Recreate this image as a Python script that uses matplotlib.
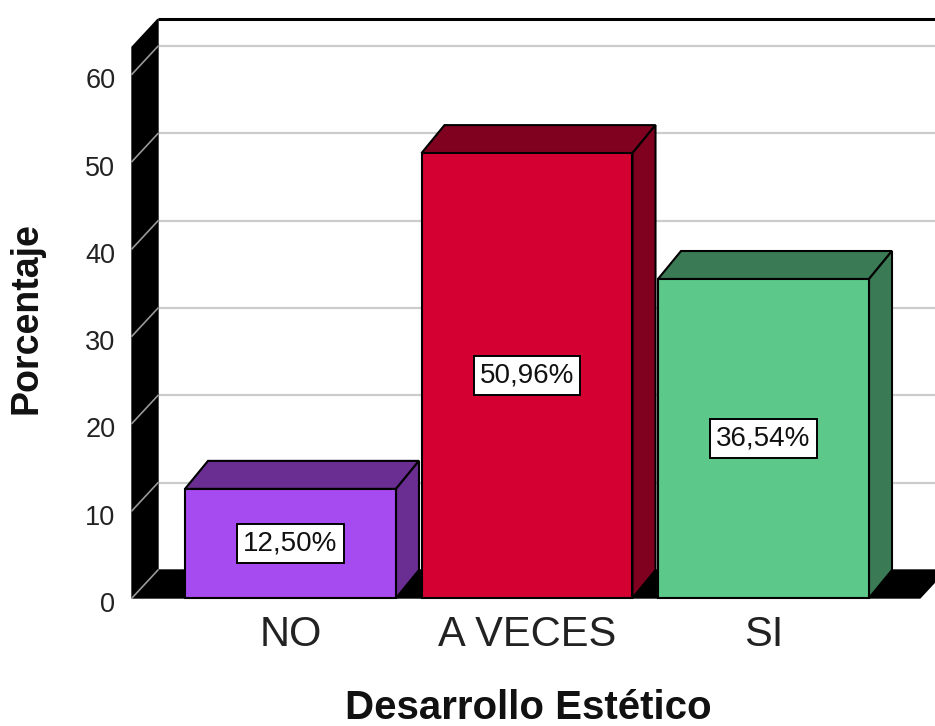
import matplotlib
matplotlib.use("Agg")
import matplotlib.pyplot as plt
import matplotlib.transforms as mtransforms
from matplotlib.patches import Polygon, Rectangle

# data
categories = ["NO", "A VECES", "SI"]
percent = [12.50, 50.96, 36.54]
labels = ["12,50%", "50,96%", "36,54%"]
front_colors = ["#a64bf0", "#d50032", "#5cc98a"]
dark_colors = ["#6a2d92", "#800020", "#3a7b55"]
yticks = [0, 10, 20, 30, 40, 50, 60]

plt.rcParams['font.family'] = ['Liberation Sans', 'DejaVu Sans']

W, H = 935, 726
fig = plt.figure(figsize=(W / 100, H / 100), dpi=100)

# front plane of the 3d box, in pixels
px_left, px_right = 132, 920
px_zero, px_per_unit = 598, 8.73
px_cat0, px_step = 290.5, 236.5
y_max = 60

x0 = (px_left - px_cat0) / px_step
x1 = (px_right - px_cat0) / px_step
ax = fig.add_axes([px_left / W, (H - px_zero) / H,
                   (px_right - px_left) / W, y_max * px_per_unit / H])
ax.set_xlim(x0, x1)
ax.set_ylim(0, y_max)

# depth offsets (data units)
dxw, dyw = 26 / px_step, 28 / px_per_unit   # walls
dxb, dyb = 23 / px_step, 28 / px_per_unit   # bars
wall_top = 63.1
bar_w = 211 / px_step

# back wall
ax.add_patch(Rectangle((x0 + dxw, dyw), x1 - x0 + 0.3, wall_top, facecolor="white",
                       edgecolor="none", clip_on=False, zorder=1))
ax.plot([x0 + dxw, x1 + 0.5], [wall_top + dyw] * 2, color="black", lw=2.2,
        clip_on=False, zorder=2, solid_capstyle="butt")
for v in yticks[1:]:
    ax.plot([x0 + dxw, x1 + 0.5], [v + dyw] * 2, color="#cccccc", lw=1.6,
            clip_on=False, zorder=2)

# floor
ax.add_patch(Polygon([(x0, 0), (x1, 0), (x1 + dxw, dyw), (x0 + dxw, dyw)],
                     closed=True, facecolor="black", edgecolor="black",
                     clip_on=False, zorder=3))
# side wall
ax.add_patch(Polygon([(x0, 0), (x0, wall_top), (x0 + dxw, wall_top + dyw), (x0 + dxw, dyw)],
                     closed=True, facecolor="black", edgecolor="black",
                     clip_on=False, zorder=3))
for v in yticks:
    ax.plot([x0, x0 + dxw], [v, v + dyw], color="#999999", lw=1.2,
            clip_on=False, zorder=4)

# bars
for i, (v, fc, dc, lab) in enumerate(zip(percent, front_colors, dark_colors, labels)):
    l, r = i - bar_w / 2, i + bar_w / 2
    ax.add_patch(Polygon([(l, v), (r, v), (r + dxb, v + dyb), (l + dxb, v + dyb)],
                         closed=True, facecolor=dc, edgecolor="black", lw=1.5,
                         clip_on=False, zorder=5))
    ax.add_patch(Polygon([(r, 0), (r, v), (r + dxb, v + dyb), (r + dxb, dyb)],
                         closed=True, facecolor=dc, edgecolor="black", lw=1.5,
                         clip_on=False, zorder=5))
    ax.add_patch(Rectangle((l, 0), bar_w, v, facecolor=fc, edgecolor="black",
                           lw=1.5, clip_on=False, zorder=6))
    ax.text(i, v / 2, lab, ha="center", va="center", fontsize=20, color="#111111",
            zorder=7, bbox=dict(boxstyle="square,pad=0.22", facecolor="white",
                                edgecolor="black", lw=1.4))

# axes text
ax.set_frame_on(False)
ax.set_yticks(yticks)
ax.set_yticklabels([str(v) for v in yticks], fontsize=19.5, color="#222222")
ax.set_xticks(range(len(categories)))
ax.set_xticklabels(categories, fontsize=30, color="#222222")
ax.tick_params(axis="y", length=0, pad=12)
ax.tick_params(axis="x", length=0, pad=12)

# tick labels sit a little below their gridline in the original
shift = mtransforms.ScaledTranslation(0, -4 / 100, fig.dpi_scale_trans)
for t in ax.get_yticklabels():
    t.set_transform(t.get_transform() + shift)

fig.text(27 / W, 1 - 318 / H, "Porcentaje", rotation=90, ha="center", va="center",
         fontsize=27, fontweight="bold", color="#111111")
fig.text(528 / W, 1 - 719 / H, "Desarrollo Estético", ha="center", va="baseline",
         fontsize=29, fontweight="bold", color="#111111")

fig.savefig("out.png", dpi=100)
